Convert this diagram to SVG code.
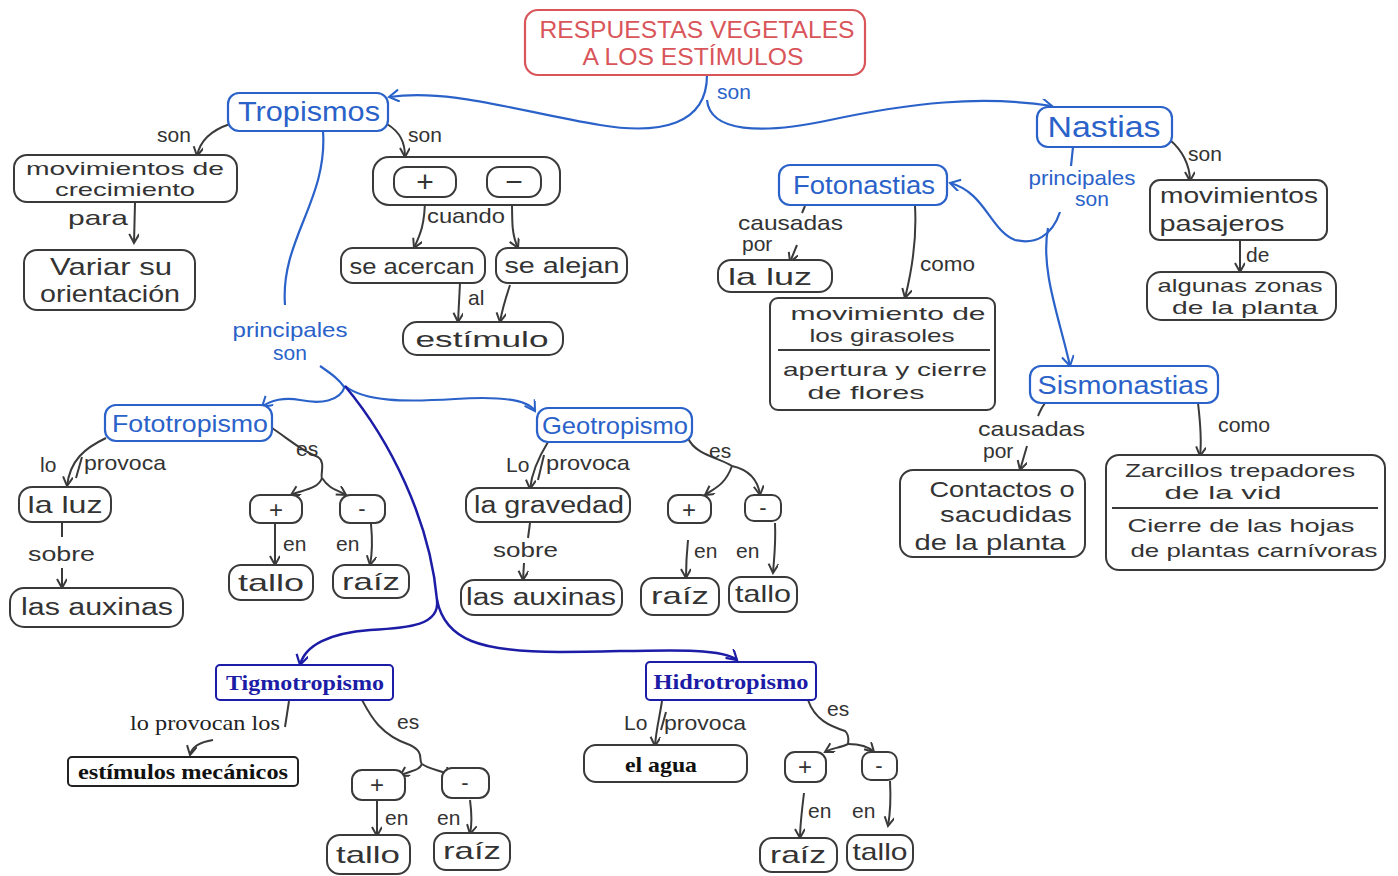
<svg xmlns="http://www.w3.org/2000/svg" width="1398" height="876" viewBox="0 0 1398 876">
<defs>
<marker id="ag" markerWidth="12" markerHeight="12" refX="10" refY="5" orient="auto" markerUnits="userSpaceOnUse"><path d="M1,0 L10,5 L1,10" fill="none" stroke="#3a3a3a" stroke-width="2"/></marker>
<marker id="ab" markerWidth="14" markerHeight="14" refX="11" refY="6" orient="auto" markerUnits="userSpaceOnUse"><path d="M1,0 L11,6 L1,12" fill="none" stroke="#2a62c9" stroke-width="2"/></marker>
<marker id="ad" markerWidth="14" markerHeight="14" refX="11" refY="6" orient="auto" markerUnits="userSpaceOnUse"><path d="M1,0 L11,6 L1,12" fill="none" stroke="#1c1ca6" stroke-width="2.2"/></marker>
</defs>
<style>
.bg{fill:#ffffff}
.g{fill:#fff;stroke:#3a3a3a;stroke-width:2}
.b{fill:#fff;stroke:#2a62c9;stroke-width:2.2}
.d{fill:#fff;stroke:#1c1ca6;stroke-width:2}
.r{fill:#fff;stroke:#d9555a;stroke-width:2.2}
.lg{fill:none;stroke:#3a3a3a;stroke-width:2}
.lb{fill:none;stroke:#2a62c9;stroke-width:2.2}
.ld{fill:none;stroke:#1c1ca6;stroke-width:2.5}
text{font-family:"Liberation Sans","Open Sans",sans-serif}
.t{font-size:22px;fill:#333;text-anchor:middle}
.t2{font-size:19px;fill:#333;text-anchor:middle}
.tv{font-size:24px;fill:#333;text-anchor:middle}
.tl{font-size:21px;fill:#333}
.tb{font-size:26px;fill:#2a62c9;text-anchor:middle}
.tbl{font-size:21px;fill:#2a62c9;text-anchor:middle}
.ts{font-family:"Liberation Serif",serif;font-weight:bold;font-size:22px;text-anchor:middle}
.tr{font-size:23px;fill:#d9555a;text-anchor:middle}
</style>
<rect class="bg" x="0" y="0" width="1398" height="876"/>

<g id="connectors">
<path class="lb" d="M707,75 C707,125 660,135 600,125 C520,112 450,88 389,97" marker-end="url(#ab)"/>
<path class="lb" d="M707,100 C710,132 760,135 830,120 C910,103 980,95 1052,106" marker-end="url(#ab)"/>
<path class="lg" d="M230,124 C212,130 200,140 197,156" marker-end="url(#ag)"/>
<path class="lg" d="M135,203 L134,243" marker-end="url(#ag)"/>
<path class="lg" d="M387,124 C400,132 405,142 405,157" marker-end="url(#ag)"/>
<path class="lg" d="M425,197 C425,225 420,235 414,248" marker-end="url(#ag)"/>
<path class="lg" d="M512,197 C512,225 512,235 518,248" marker-end="url(#ag)"/>
<path class="lg" d="M460,283 L458,322" marker-end="url(#ag)"/>
<path class="lg" d="M510,285 C505,300 502,310 500,322" marker-end="url(#ag)"/>
<path class="lb" d="M323,131 C328,200 280,240 285,305"/>
<path class="lb" d="M320,366 C330,373 338,378 345,388"/>
<path class="lb" d="M345,386 C340,402 320,404 300,400 C285,397 270,400 262,407" marker-end="url(#ab)"/>
<path class="lb" d="M345,386 C365,402 405,402 455,399 C500,396 528,400 535,411" marker-end="url(#ab)"/>
<path class="ld" d="M345,386 C390,440 430,520 437,600"/>
<path class="ld" d="M437,600 C440,625 410,628 370,630 C330,633 305,645 300,665" marker-end="url(#ad)"/>
<path class="ld" d="M437,600 C445,640 480,652 560,652 C640,652 720,645 737,660" marker-end="url(#ad)"/>
<path class="lg" d="M106,438 C85,448 70,460 67,486" marker-end="url(#ag)"/>
<path class="lg" d="M76,478 L82,457"/>
<path class="lg" d="M62,523 L62,537"/>
<path class="lg" d="M62,568 L62,588" marker-end="url(#ag)"/>
<path class="lg" d="M272,428 C290,440 300,450 318,457 C326,462 320,475 322,478"/>
<path class="lg" d="M322,478 C318,490 300,490 291,495" marker-end="url(#ag)"/>
<path class="lg" d="M322,478 C330,490 338,490 346,495" marker-end="url(#ag)"/>
<path class="lg" d="M275,524 L275,565" marker-end="url(#ag)"/>
<path class="lg" d="M371,524 C373,545 372,555 370,565" marker-end="url(#ag)"/>
<path class="lg" d="M548,442 C540,455 532,470 530,489" marker-end="url(#ag)"/>
<path class="lg" d="M538,480 L544,455"/>
<path class="lg" d="M530,523 L528,538"/>
<path class="lg" d="M524,563 L523,580" marker-end="url(#ag)"/>
<path class="lg" d="M688,438 C695,455 720,458 732,466"/>
<path class="lg" d="M732,466 C725,485 715,488 705,495" marker-end="url(#ag)"/>
<path class="lg" d="M732,466 C750,470 758,480 760,495" marker-end="url(#ag)"/>
<path class="lg" d="M688,540 C686,560 686,565 686,578" marker-end="url(#ag)"/>
<path class="lg" d="M775,523 C776,545 774,558 773,573" marker-end="url(#ag)"/>
<path class="lg" d="M289,701 L285,727"/>
<path class="lg" d="M213,740 C200,742 192,746 190,755" marker-end="url(#ag)"/>
<path class="lg" d="M362,700 C370,715 380,735 410,745 C425,752 418,760 422,764"/>
<path class="lg" d="M422,764 C418,772 410,770 400,776" marker-end="url(#ag)"/>
<path class="lg" d="M422,764 C430,770 442,770 452,776" marker-end="url(#ag)"/>
<path class="lg" d="M377,801 L377,836" marker-end="url(#ag)"/>
<path class="lg" d="M470,800 C472,815 472,825 470,834" marker-end="url(#ag)"/>
<path class="lg" d="M662,701 C660,715 656,730 655,746" marker-end="url(#ag)"/>
<path class="lg" d="M661,730 L666,712"/>
<path class="lg" d="M808,700 C815,720 830,726 845,731 C850,735 848,742 848,744"/>
<path class="lg" d="M848,744 C840,748 832,748 825,752" marker-end="url(#ag)"/>
<path class="lg" d="M848,744 C862,744 870,748 874,752" marker-end="url(#ag)"/>
<path class="lg" d="M804,793 C802,810 800,825 800,838" marker-end="url(#ag)"/>
<path class="lg" d="M890,781 C891,800 890,815 888,826" marker-end="url(#ag)"/>
<path class="lg" d="M1170,140 C1182,150 1190,165 1190,181" marker-end="url(#ag)"/>
<path class="lg" d="M1240,241 L1240,272" marker-end="url(#ag)"/>
<path class="lb" d="M1073,147 L1071,166"/>
<path class="lb" d="M1060,212 C1052,236 1035,245 1015,240 C990,230 985,192 950,183" marker-end="url(#ab)"/>
<path class="lb" d="M1048,228 C1040,270 1060,320 1070,366" marker-end="url(#ab)"/>
<path class="lg" d="M805,206 L802,213"/>
<path class="lg" d="M797,245 L790,262" marker-end="url(#ag)"/>
<path class="lg" d="M915,206 C917,240 912,270 905,298" marker-end="url(#ag)"/>
<path class="lg" d="M1045,403 C1040,410 1040,412 1038,416"/>
<path class="lg" d="M1027,446 L1020,470" marker-end="url(#ag)"/>
<path class="lg" d="M1198,403 C1200,420 1202,440 1200,456" marker-end="url(#ag)"/>
</g>

<g id="title">
<rect class="r" x="525" y="10" width="340" height="65" rx="13"/>
<text class="tr" x="697" y="38" textLength="315" lengthAdjust="spacingAndGlyphs">RESPUESTAS VEGETALES</text>
<text class="tr" x="693" y="65" textLength="221" lengthAdjust="spacingAndGlyphs">A LOS ESTÍMULOS</text>
</g>
<g id="lbl-son-main"><text class="tl" x="717" y="99" style="fill:#2a62c9">son</text></g>

<g id="tropismos">
<rect class="b" x="228" y="93" width="160" height="38" rx="11"/>
<text class="tb" x="309" y="121" style="font-size:27px" textLength="142" lengthAdjust="spacingAndGlyphs">Tropismos</text>
</g>
<g id="nastias">
<rect class="b" x="1037" y="107" width="135" height="40" rx="11"/>
<text class="tb" x="1104" y="137" style="font-size:30px" textLength="113" lengthAdjust="spacingAndGlyphs">Nastias</text>
</g>

<g id="labels">
<text class="tl" x="157" y="142">son</text>
<text class="tl" x="408" y="142">son</text>
<text class="tl" x="68" y="225" textLength="60" lengthAdjust="spacingAndGlyphs">para</text>
<text class="tl" x="427" y="223" textLength="78" lengthAdjust="spacingAndGlyphs">cuando</text>
<text class="tl" x="468" y="305">al</text>
<text class="tbl" x="290" y="337" textLength="115" lengthAdjust="spacingAndGlyphs">principales</text>
<text class="tbl" x="290" y="360">son</text>
<text class="tl" x="40" y="472">lo</text>
<text class="tl" x="84" y="470" textLength="82" lengthAdjust="spacingAndGlyphs">provoca</text>
<text class="tl" x="28" y="561" textLength="67" lengthAdjust="spacingAndGlyphs">sobre</text>
<text class="tl" x="296" y="456">es</text>
<text class="tl" x="283" y="551">en</text>
<text class="tl" x="336" y="551">en</text>
<text class="tl" x="506" y="472">Lo</text>
<text class="tl" x="546" y="470" textLength="84" lengthAdjust="spacingAndGlyphs">provoca</text>
<text class="tl" x="493" y="557" textLength="65" lengthAdjust="spacingAndGlyphs">sobre</text>
<text class="tl" x="709" y="458">es</text>
<text class="tl" x="694" y="558">en</text>
<text class="tl" x="736" y="558">en</text>
<text x="130" y="730" style="font-family:'Liberation Serif',serif;font-size:22px;fill:#222" textLength="150" lengthAdjust="spacingAndGlyphs">lo provocan los</text>
<text class="tl" x="397" y="729">es</text>
<text class="tl" x="385" y="825">en</text>
<text class="tl" x="437" y="825">en</text>
<text class="tl" x="624" y="730">Lo</text>
<text class="tl" x="664" y="730" textLength="82" lengthAdjust="spacingAndGlyphs">provoca</text>
<text class="tl" x="827" y="716">es</text>
<text class="tl" x="808" y="818">en</text>
<text class="tl" x="852" y="818">en</text>
<text class="tl" x="1188" y="161">son</text>
<text class="tl" x="1246" y="262">de</text>
<text class="tbl" x="1082" y="185" textLength="107" lengthAdjust="spacingAndGlyphs">principales</text>
<text class="tbl" x="1092" y="206">son</text>
<text class="tl" x="738" y="230" textLength="105" lengthAdjust="spacingAndGlyphs">causadas</text>
<text class="tl" x="742" y="251">por</text>
<text class="tl" x="920" y="271" textLength="55" lengthAdjust="spacingAndGlyphs">como</text>
<text class="tl" x="978" y="436" textLength="107" lengthAdjust="spacingAndGlyphs">causadas</text>
<text class="tl" x="983" y="458">por</text>
<text class="tl" x="1218" y="432" textLength="52" lengthAdjust="spacingAndGlyphs">como</text>
</g>

<g id="mov-crecimiento">
<rect class="g" x="14" y="155" width="223" height="47" rx="13"/>
<text class="t2" x="125" y="175" textLength="198" lengthAdjust="spacingAndGlyphs">movimientos de</text>
<text class="t2" x="125" y="196" textLength="140" lengthAdjust="spacingAndGlyphs">crecimiento</text>
</g>
<g id="variar">
<rect class="g" x="24" y="250" width="171" height="60" rx="13"/>
<text class="tv" x="111" y="275" textLength="122" lengthAdjust="spacingAndGlyphs">Variar su</text>
<text class="tv" x="110" y="302" textLength="140" lengthAdjust="spacingAndGlyphs">orientación</text>
</g>
<g id="signos">
<rect class="g" x="373" y="157" width="187" height="48" rx="16"/>
<rect class="g" x="394" y="167" width="62" height="30" rx="12"/>
<text class="t" x="425" y="192" style="font-size:30px">+</text>
<rect class="g" x="487" y="167" width="54" height="30" rx="12"/>
<text class="t" x="514" y="192" style="font-size:30px">−</text>
</g>
<g id="se-acercan">
<rect class="g" x="341" y="248" width="144" height="35" rx="12"/>
<text class="t" x="412" y="274" textLength="125" lengthAdjust="spacingAndGlyphs">se acercan</text>
</g>
<g id="se-alejan">
<rect class="g" x="496" y="248" width="131" height="35" rx="12"/>
<text class="t" x="562" y="273" textLength="115" lengthAdjust="spacingAndGlyphs">se alejan</text>
</g>
<g id="estimulo">
<rect class="g" x="403" y="322" width="160" height="33" rx="14"/>
<text class="t" x="482" y="347" style="font-size:22px" textLength="133" lengthAdjust="spacingAndGlyphs">estímulo</text>
</g>

<g id="fototropismo">
<rect class="b" x="105" y="405" width="167" height="36" rx="11"/>
<text class="tb" x="190" y="432" style="font-size:24px" textLength="156" lengthAdjust="spacingAndGlyphs">Fototropismo</text>
</g>
<g id="foto-luz">
<rect class="g" x="19" y="487" width="92" height="35" rx="13"/>
<text class="tv" x="65" y="513" textLength="75" lengthAdjust="spacingAndGlyphs">la luz</text>
</g>
<g id="foto-auxinas">
<rect class="g" x="10" y="588" width="173" height="39" rx="14"/>
<text class="tv" x="97" y="615" style="font-size:23px" textLength="152" lengthAdjust="spacingAndGlyphs">las auxinas</text>
</g>
<g id="foto-mas">
<rect class="g" x="250" y="495" width="52" height="28" rx="10"/>
<text class="t" x="276" y="518" style="font-size:24px">+</text>
</g>
<g id="foto-menos">
<rect class="g" x="340" y="495" width="45" height="28" rx="10"/>
<text class="t" x="362" y="516">-</text>
</g>
<g id="foto-tallo">
<rect class="g" x="229" y="565" width="84" height="35" rx="12"/>
<text class="tv" x="271" y="591" textLength="66" lengthAdjust="spacingAndGlyphs">tallo</text>
</g>
<g id="foto-raiz">
<rect class="g" x="333" y="565" width="76" height="33" rx="12"/>
<text class="tv" x="371" y="590" textLength="58" lengthAdjust="spacingAndGlyphs">raíz</text>
</g>

<g id="geotropismo">
<rect class="b" x="537" y="408" width="155" height="34" rx="11"/>
<text class="tb" x="615" y="434" style="font-size:24px" textLength="146" lengthAdjust="spacingAndGlyphs">Geotropismo</text>
</g>
<g id="geo-gravedad">
<rect class="g" x="466" y="488" width="164" height="34" rx="13"/>
<text class="tv" x="549" y="513" style="font-size:23px" textLength="150" lengthAdjust="spacingAndGlyphs">la gravedad</text>
</g>
<g id="geo-auxinas">
<rect class="g" x="461" y="580" width="161" height="35" rx="13"/>
<text class="tv" x="541" y="605" style="font-size:23px" textLength="150" lengthAdjust="spacingAndGlyphs">las auxinas</text>
</g>
<g id="geo-mas">
<rect class="g" x="668" y="495" width="43" height="28" rx="10"/>
<text class="t" x="689" y="518" style="font-size:24px">+</text>
</g>
<g id="geo-menos">
<rect class="g" x="745" y="495" width="36" height="26" rx="9"/>
<text class="t" x="763" y="515">-</text>
</g>
<g id="geo-raiz">
<rect class="g" x="641" y="578" width="78" height="37" rx="12"/>
<text class="tv" x="680" y="604" textLength="58" lengthAdjust="spacingAndGlyphs">raíz</text>
</g>
<g id="geo-tallo">
<rect class="g" x="729" y="577" width="68" height="35" rx="12"/>
<text class="tv" x="763" y="602" textLength="56" lengthAdjust="spacingAndGlyphs">tallo</text>
</g>

<g id="tigmotropismo">
<rect class="d" x="216" y="665" width="177" height="35" rx="4"/>
<text class="ts" x="305" y="690" style="fill:#1c1ca6" textLength="158" lengthAdjust="spacingAndGlyphs">Tigmotropismo</text>
</g>
<g id="estimulos-mecanicos">
<rect x="68" y="757" width="230" height="29" rx="4" fill="#fff" stroke="#222" stroke-width="2"/>
<text class="ts" x="183" y="779" style="fill:#111" textLength="210" lengthAdjust="spacingAndGlyphs">estímulos mecánicos</text>
</g>
<g id="tig-mas">
<rect class="g" x="352" y="770" width="53" height="30" rx="10"/>
<text class="t" x="377" y="793" style="font-size:24px">+</text>
</g>
<g id="tig-menos">
<rect class="g" x="442" y="768" width="47" height="30" rx="10"/>
<text class="t" x="465" y="790">-</text>
</g>
<g id="tig-tallo">
<rect class="g" x="327" y="835" width="83" height="39" rx="13"/>
<text class="tv" x="368" y="863" textLength="64" lengthAdjust="spacingAndGlyphs">tallo</text>
</g>
<g id="tig-raiz">
<rect class="g" x="434" y="833" width="76" height="37" rx="12"/>
<text class="tv" x="472" y="859" textLength="58" lengthAdjust="spacingAndGlyphs">raíz</text>
</g>

<g id="hidrotropismo">
<rect class="d" x="646" y="662" width="170" height="38" rx="4"/>
<text class="ts" x="731" y="689" style="fill:#1c1ca6" textLength="155" lengthAdjust="spacingAndGlyphs">Hidrotropismo</text>
</g>
<g id="el-agua">
<rect class="g" x="584" y="745" width="163" height="37" rx="12"/>
<text class="ts" x="661" y="772" style="fill:#111" textLength="72" lengthAdjust="spacingAndGlyphs">el agua</text>
</g>
<g id="hid-mas">
<rect class="g" x="785" y="752" width="41" height="30" rx="10"/>
<text class="t" x="805" y="775" style="font-size:24px">+</text>
</g>
<g id="hid-menos">
<rect class="g" x="862" y="752" width="35" height="28" rx="9"/>
<text class="t" x="879" y="773">-</text>
</g>
<g id="hid-raiz">
<rect class="g" x="760" y="838" width="77" height="34" rx="12"/>
<text class="tv" x="798" y="863" textLength="56" lengthAdjust="spacingAndGlyphs">raíz</text>
</g>
<g id="hid-tallo">
<rect class="g" x="847" y="835" width="66" height="35" rx="12"/>
<text class="tv" x="880" y="860" textLength="55" lengthAdjust="spacingAndGlyphs">tallo</text>
</g>

<g id="mov-pasajeros">
<rect class="g" x="1150" y="180" width="177" height="60" rx="10"/>
<text class="t" x="1239" y="203" style="font-size:22px" textLength="158" lengthAdjust="spacingAndGlyphs">movimientos</text>
<text class="t" x="1222" y="231" style="font-size:22px" textLength="125" lengthAdjust="spacingAndGlyphs">pasajeros</text>
</g>
<g id="zonas">
<rect class="g" x="1147" y="272" width="189" height="48" rx="14"/>
<text class="t2" x="1240" y="292" textLength="165" lengthAdjust="spacingAndGlyphs">algunas zonas</text>
<text class="t2" x="1245" y="314" textLength="146" lengthAdjust="spacingAndGlyphs">de la planta</text>
</g>

<g id="fotonastias">
<rect class="b" x="779" y="165" width="168" height="40" rx="11"/>
<text class="tb" x="864" y="194" textLength="142" lengthAdjust="spacingAndGlyphs">Fotonastias</text>
</g>
<g id="fn-luz">
<rect class="g" x="718" y="260" width="114" height="32" rx="13"/>
<text class="tv" x="770" y="285" textLength="84" lengthAdjust="spacingAndGlyphs">la luz</text>
</g>
<g id="fn-ejemplos">
<rect class="g" x="770" y="298" width="225" height="112" rx="8"/>
<line class="lg" x1="778" y1="350" x2="990" y2="350"/>
<text class="t2" x="888" y="320" textLength="195" lengthAdjust="spacingAndGlyphs">movimiento de</text>
<text class="t2" x="882" y="342" textLength="145" lengthAdjust="spacingAndGlyphs">los girasoles</text>
<text class="t2" x="885" y="376" textLength="204" lengthAdjust="spacingAndGlyphs">apertura y cierre</text>
<text class="t2" x="866" y="399" textLength="117" lengthAdjust="spacingAndGlyphs">de flores</text>
</g>

<g id="sismonastias">
<rect class="b" x="1030" y="366" width="188" height="37" rx="11"/>
<text class="tb" x="1123" y="394" textLength="171" lengthAdjust="spacingAndGlyphs">Sismonastias</text>
</g>
<g id="contactos">
<rect class="g" x="900" y="470" width="185" height="87" rx="13"/>
<text class="t" x="1002" y="497" textLength="145" lengthAdjust="spacingAndGlyphs">Contactos o</text>
<text class="t" x="1006" y="522" textLength="132" lengthAdjust="spacingAndGlyphs">sacudidas</text>
<text class="t" x="990" y="550" textLength="151" lengthAdjust="spacingAndGlyphs">de la planta</text>
</g>
<g id="sm-ejemplos">
<rect class="g" x="1106" y="455" width="279" height="115" rx="13"/>
<line class="lg" x1="1112" y1="508" x2="1378" y2="508"/>
<text class="t2" x="1240" y="477" textLength="230" lengthAdjust="spacingAndGlyphs">Zarcillos trepadores</text>
<text class="t2" x="1223" y="499" textLength="117" lengthAdjust="spacingAndGlyphs">de la vid</text>
<text class="t2" x="1241" y="532" textLength="227" lengthAdjust="spacingAndGlyphs">Cierre de las hojas</text>
<text class="t2" x="1254" y="557" textLength="247" lengthAdjust="spacingAndGlyphs">de plantas carnívoras</text>
</g>
</svg>
